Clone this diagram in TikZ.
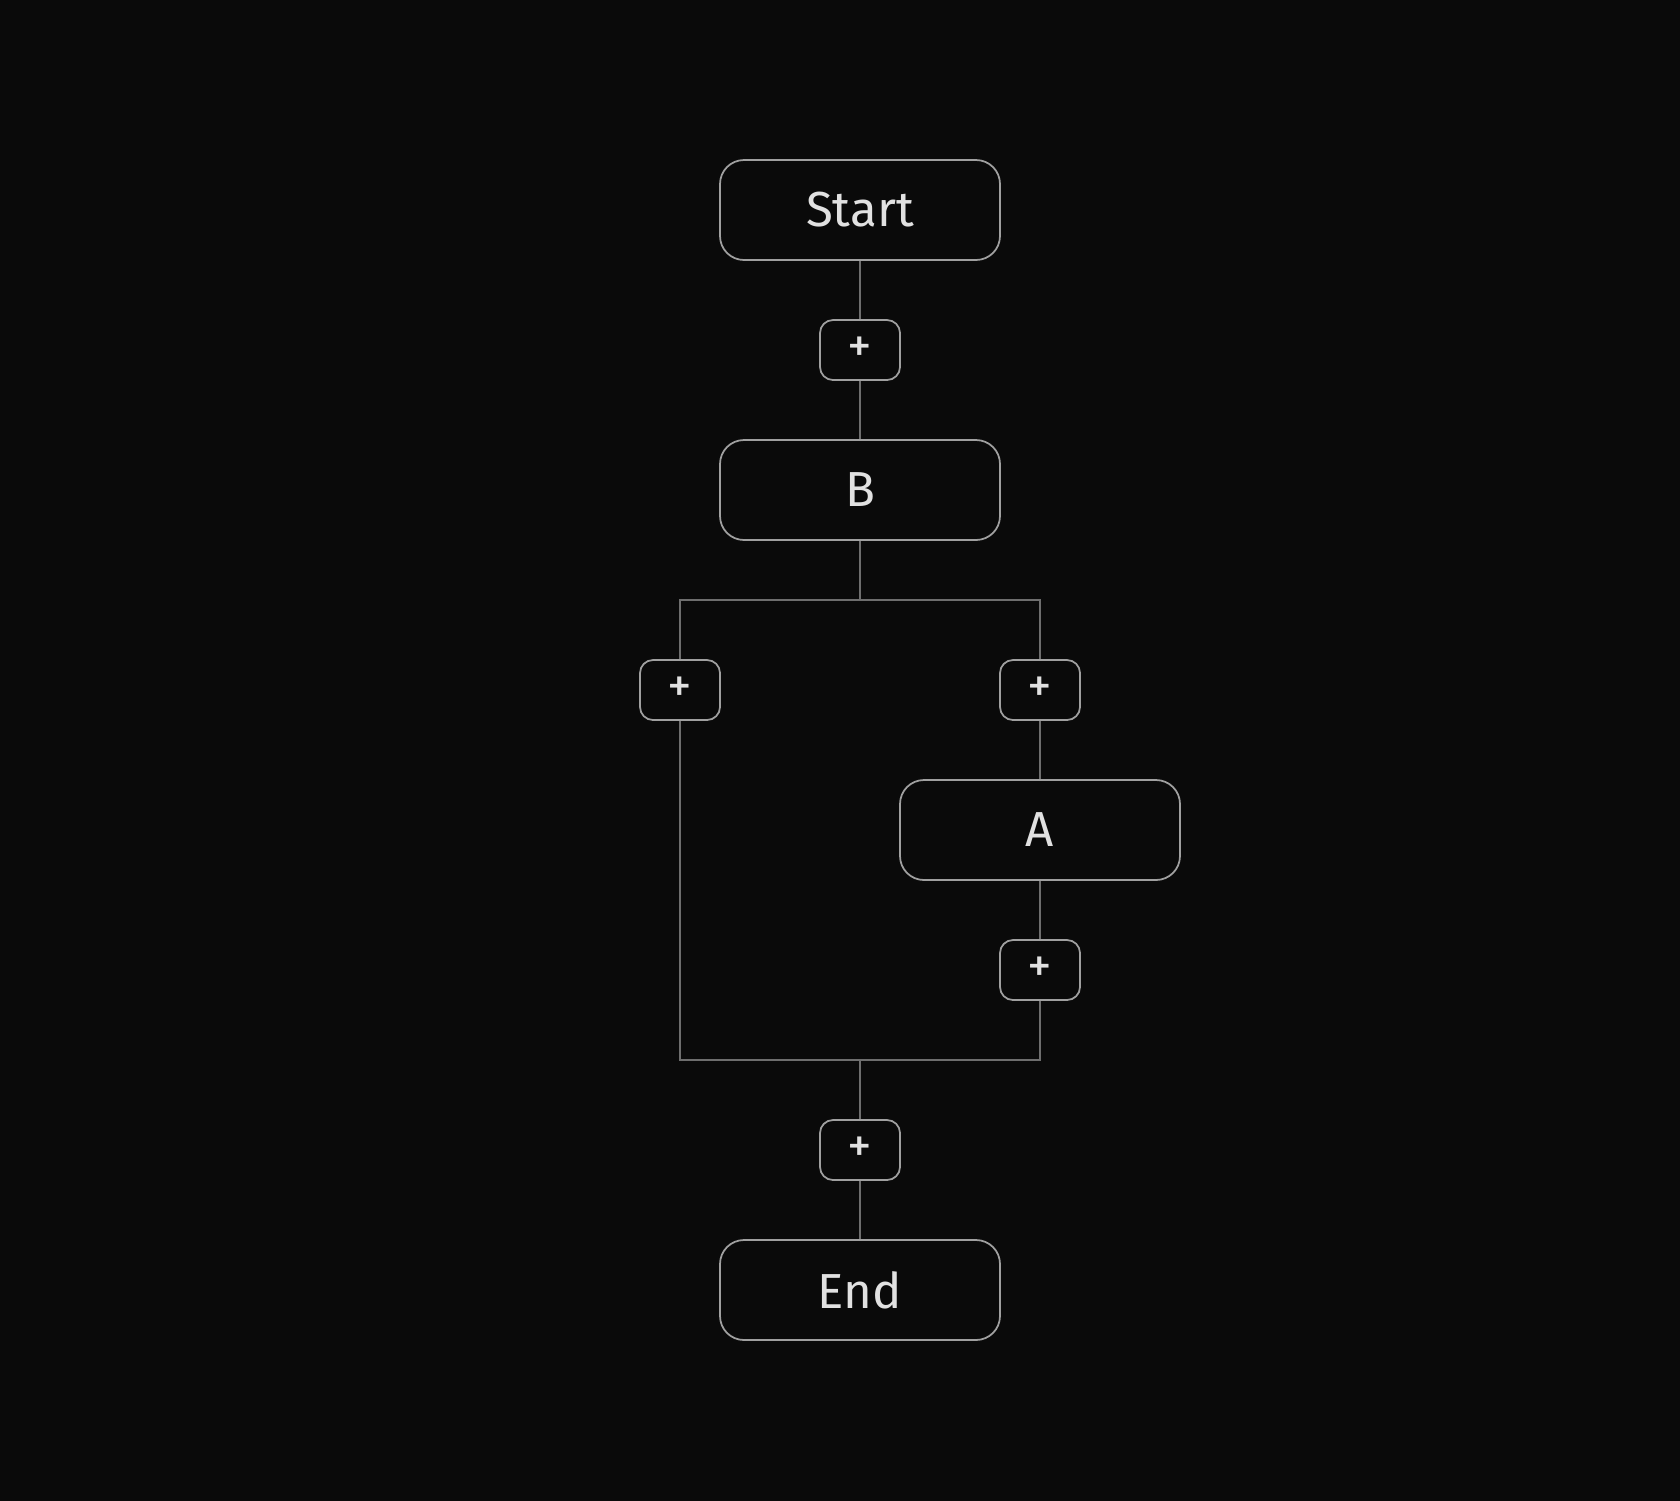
\documentclass[tikz,border=0pt]{standalone}
\usepackage{fontspec}
\setmainfont{Fira Sans}
\usepackage{tikz}
\usetikzlibrary{positioning}
\definecolor{canvas}{RGB}{10, 10, 10}
\definecolor{edge}{RGB}{110, 110, 110}
\definecolor{frame}{RGB}{160, 160, 160}
\definecolor{ink}{RGB}{225, 225, 225}
\tikzset{
    stepbox/.style={draw=frame, fill=canvas, rounded corners=0.24cm, line width=0.5pt,
        minimum width=2.8cm, minimum height=1cm, text=ink, font=\fontsize{14}{17}\selectfont},
    addbox/.style={draw=frame, fill=canvas, rounded corners=0.13cm, line width=0.5pt,
        minimum width=0.8cm, minimum height=0.6cm, text=ink, font=\fontsize{14}{17}\selectfont},
    link/.style={draw=edge, line width=0.7pt}
}

\begin{document}
\begin{tikzpicture}
		\useasboundingbox (0,0) rectangle (16.8,-15);
		\fill[canvas] (-0.1,0.1) rectangle (16.9,-15.1);

		% main column
		\node[stepbox] (start) at (8.6,-2.1) {Start};
		\node[addbox] (addtop) at (8.6,-3.5) {+};
		\node[stepbox] (b) at (8.6,-4.9) {B};

		% the two branches
		\coordinate (fork) at (8.6,-6.0);
		\node[addbox] (addleft) at (6.8,-6.9) {+};
		\node[addbox] (addright) at (10.4,-6.9) {+};
		\node[stepbox] (a) at (10.4,-8.3) {A};
		\node[addbox] (adda) at (10.4,-9.7) {+};
		\coordinate (join) at (8.6,-10.6);

		\node[addbox] (addjoin) at (8.6,-11.5) {+};
		\node[stepbox] (end) at (8.6,-12.9) {End};

		\draw[link] (start) -- (addtop) -- (b) -- (fork);
		\draw[link] (fork) -| (addleft);
		\draw[link] (fork) -| (addright);
		\draw[link] (addright) -- (a) -- (adda);
		\draw[link] (addleft) |- (join);
		\draw[link] (adda) |- (join);
		\draw[link] (join) -- (addjoin) -- (end);
\end{tikzpicture}
\end{document}
